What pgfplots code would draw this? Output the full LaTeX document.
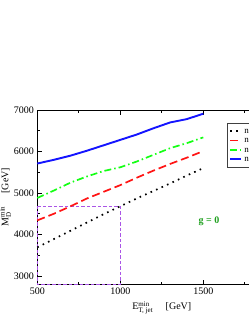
\documentclass[border=0pt]{standalone}
\usepackage{fontspec}
\setmainfont{Liberation Serif}
\usepackage{pgfplots}
\pgfplotsset{compat=1.18}
\definecolor{myblue}{RGB}{20,20,255}
\definecolor{myred}{RGB}{255,20,20}
\definecolor{mygreen}{RGB}{20,255,20}
\definecolor{mypurple}{RGB}{170,85,230}
\definecolor{ggreen}{RGB}{30,160,30}
\begin{document}
\begin{tikzpicture}
\useasboundingbox (-37.3pt,-37.7pt) rectangle (211.7pt,284.3pt);
\clip (-37.3pt,-37.7pt) rectangle (211.7pt,284.3pt);
\begin{axis}[
  at={(0pt,0pt)}, anchor=south west,
  scale only axis, width=249pt, height=174.3pt,
  xmin=500, xmax=2000, ymin=2800, ymax=7000,
  xtick={500,1000,1500,2000}, minor xtick={750,1250,1750},
  ytick={3000,4000,5000,6000,7000}, minor ytick={3500,4500,5500,6500},
  tick align=inside, major tick length=4.5pt, minor tick length=2.5pt,
  axis line style={line width=1pt},
  every tick/.style={black, line width=0.8pt},
  /pgf/number format/assume math mode=true,
  /pgf/number format/set thousands separator={},
  tick label style={font=\fontsize{10}{12}\selectfont},
  xlabel={E$^{\mbox{\scriptsize min}}_{\mbox{\scriptsize T, jet}}$\quad\ [GeV]},
  ylabel={M$^{\mbox{\scriptsize min}}_{\mbox{\scriptsize D}}$\quad\ [GeV]},
  ylabel shift=-4pt,
  clip=false,
  legend style={at={(0.762,0.927)}, anchor=north west, draw=darkgray, line width=1pt,
    font=\small, row sep=-2pt, inner sep=2pt},
  legend cell align=left,
  legend image code/.code={\draw[#1] (0pt,0pt) -- (11pt,0pt);},
]
\addplot[mypurple, line width=1.4pt, dash pattern=on 3.5pt off 2pt, forget plot]
  coordinates {(500,4680) (1000,4680) (1000,2800) (500,2800) (500,4680)};
\addplot[black, line width=1.7pt, dash pattern=on 1.6pt off 4.4pt] coordinates {
 (500,3690) (600,3890) (700,4090) (800,4290) (900,4490) (1000,4680)
 (1100,4870) (1200,5050) (1300,5230) (1400,5420) (1500,5600)};
\addlegendentry{n = 2}
\addplot[myred, line width=1.7pt, dash pattern=on 8pt off 4pt] coordinates {
 (500,4340) (600,4500) (700,4680) (800,4870) (900,5030) (1000,5190)
 (1100,5370) (1200,5540) (1300,5700) (1400,5850) (1500,6010)};
\addlegendentry{n = 3}
\addplot[mygreen, line width=1.7pt, dash pattern=on 7pt off 3pt on 1.5pt off 3pt] coordinates {
 (500,4880) (600,5060) (700,5250) (800,5400) (900,5530) (1000,5620)
 (1100,5760) (1200,5920) (1300,6080) (1400,6200) (1500,6340)};
\addlegendentry{n = 4}
\addplot[myblue, line width=1.9pt] coordinates {
 (500,5710) (600,5800) (700,5900) (800,6020) (900,6150) (1000,6280)
 (1100,6410) (1200,6560) (1300,6700) (1400,6780) (1500,6910)};
\addlegendentry{n = 6}
\node[font=\bfseries, text=ggreen] at (axis cs:1534,4325) {g = 0};
\end{axis}
\end{tikzpicture}
\end{document}
